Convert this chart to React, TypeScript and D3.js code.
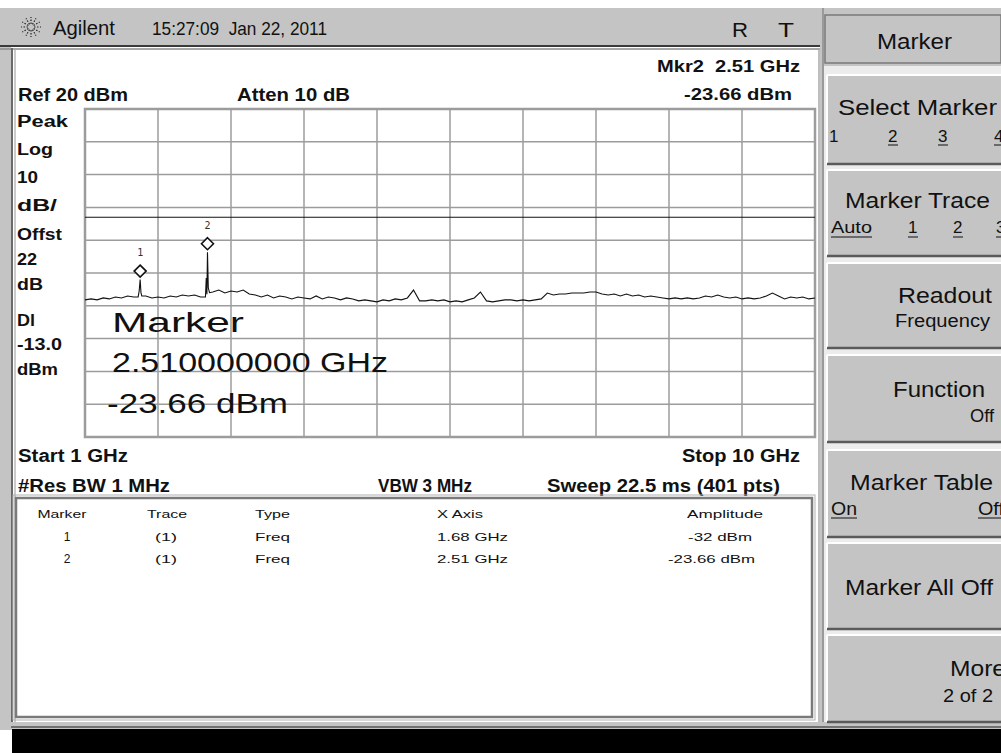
import React from "react";
import * as d3 from "d3";

const startGHz = 1;
const stopGHz = 10;
const refLevel = 20; // dBm, top of graticule
const dbPerDiv = 10;
const divisions = 10;
const displayLine = -13.0;

// base sweep (121 readings, evenly spaced from 1 to 10 GHz)
const traceDbm = [
  -38.2, -37.9, -38.2, -37.6, -37.9, -37.3, -37.6, -37.0, -37.3, -37.3,
  -37.0, -37.6, -37.3, -37.6, -37.0, -37.3, -36.7, -37.0, -36.7, -37.3,
  -37.3, -35.8, -35.2, -36.1, -35.5, -35.8, -35.2, -36.4, -36.7, -37.3,
  -36.7, -37.6, -37.0, -37.3, -37.9, -37.3, -37.6, -37.9, -37.0, -37.9,
  -37.3, -37.6, -38.2, -37.6, -37.9, -38.5, -38.2, -38.5, -38.8, -38.2,
  -38.5, -37.9, -38.2, -37.6, -35.2, -38.5, -38.5, -38.2, -38.5, -38.2,
  -38.8, -38.5, -38.8, -38.2, -37.6, -35.8, -38.5, -38.8, -38.5, -38.2,
  -38.2, -38.5, -38.2, -38.5, -38.2, -37.9, -36.1, -36.7, -36.4, -36.4,
  -36.1, -36.1, -36.1, -35.8, -35.8, -36.4, -36.7, -36.4, -37.0, -36.4,
  -37.0, -36.7, -37.3, -37.0, -37.3, -37.6, -37.9, -37.6, -37.9, -37.6,
  -37.9, -37.6, -37.0, -37.3, -36.7, -37.3, -37.6, -37.3, -37.9, -37.6,
  -37.9, -37.6, -37.0, -36.1, -37.0, -37.9, -37.3, -37.6, -37.3, -37.9, -37.6,
];

// finely read points around the two signal spikes
const spikeFreqGHz = [1.655, 1.668, 1.68, 1.69, 1.70, 2.485, 2.495, 2.503, 2.51, 2.52, 2.535];
const spikeDbm = [-37.3, -35.5, -32.0, -36.0, -37.0, -37.3, -31.5, -36.5, -23.66, -34.5, -36.0];

const markerLabels = ["1", "2"];
const markerFreqGHz = [1.68, 2.51];
const markerDbm = [-32, -23.66];

const leftLabels = ["Peak", "Log", "10", "dB/", "Offst", "22", "dB", "Dl", "-13.0", "dBm"];
const leftLabelY = [127, 155, 183, 211, 240, 265, 290, 326, 350, 375];
const leftLabelW = [51, 36, 21, 40, 45, 20, 26, 18, 45, 41];

const tableHeaders = ["Marker", "Trace", "Type", "X Axis", "Amplitude"];
const tableTrace = ["(1)", "(1)"];
const tableType = ["Freq", "Freq"];
const tableXAxis = ["1.68 GHz", "2.51 GHz"];
const tableAmp = ["-32 dBm", "-23.66 dBm"];

const W = 1001;
const H = 753;
const GX0 = 85, GX1 = 815, GY0 = 109, GY1 = 437;

const SANS = "'Liberation Sans', Arial, Helvetica, sans-serif";

function T(props: any) {
  const { children, ...rest } = props;
  return (
    <text fontFamily={SANS} fill="#111" lengthAdjust="spacingAndGlyphs" {...rest}>
      {children}
    </text>
  );
}

function Button({ y, h }: { y: number; h: number }) {
  return (
    <g>
      <rect x={827} y={y} width={W - 827} height={h} fill="#c4c4c4" />
      <line x1={827} y1={y} x2={W} y2={y} stroke="#ffffff" strokeWidth={2} />
      <line x1={827} y1={y} x2={827} y2={y + h} stroke="#ffffff" strokeWidth={2} />
      <line x1={827} y1={y + h} x2={W} y2={y + h} stroke="#5a5a5a" strokeWidth={2.5} />
    </g>
  );
}

export default function App() {
  const x = d3.scaleLinear().domain([startGHz, stopGHz]).range([GX0, GX1]);
  const y = d3
    .scaleLinear()
    .domain([refLevel - dbPerDiv * divisions, refLevel])
    .range([GY1, GY0]);

  const n = traceDbm.length;
  const step = (stopGHz - startGHz) / (n - 1);
  const base = traceDbm.map((v, i) => ({ f: startGHz + i * step, v }));
  const ranges = [
    [d3.min(spikeFreqGHz.slice(0, 5))!, d3.max(spikeFreqGHz.slice(0, 5))!],
    [d3.min(spikeFreqGHz.slice(5))!, d3.max(spikeFreqGHz.slice(5))!],
  ];
  const kept = base.filter((p) => !ranges.some(([a, b]) => p.f >= a && p.f <= b));
  const spikes = spikeFreqGHz.map((f, i) => ({ f, v: spikeDbm[i] }));
  const pts = [...kept, ...spikes].sort((a, b) => a.f - b.f);

  const line = d3
    .line<{ f: number; v: number }>()
    .x((d) => x(d.f))
    .y((d) => y(d.v));

  const vTicks = d3.range(0, divisions + 1).map((i) => startGHz + (i * (stopGHz - startGHz)) / divisions);
  const hTicks = d3.range(0, divisions + 1).map((i) => refLevel - i * dbPerDiv);

  const buttonsTop = [75, 170, 263, 355, 450, 543, 635];
  const buttonsH = [89, 86, 85, 87, 87, 86, 87];

  return (
    <svg
      width={W}
      height={H}
      style={{ position: "absolute", left: 0, top: 0, display: "block" }}
      xmlns="http://www.w3.org/2000/svg"
    >
      <rect x={0} y={0} width={W} height={H} fill="#ffffff" />
      {/* title bar */}
      <rect x={0} y={8} width={822} height={37} fill="#c4c4c4" />
      <rect x={0} y={8} width={11} height={722} fill="#c4c4c4" />
      <line x1={0} y1={46} x2={820} y2={46} stroke="#3a3a3a" strokeWidth={2} />
      <line x1={0} y1={49} x2={820} y2={49} stroke="#8a8a8a" strokeWidth={1.5} />
      <line x1={12} y1={48} x2={12} y2={729} stroke="#6a6a6a" strokeWidth={2} />
      <line x1={15} y1={50} x2={15} y2={729} stroke="#a8a8a8" strokeWidth={1.2} />
      <line x1={819} y1={48} x2={819} y2={729} stroke="#a8a8a8" strokeWidth={1.5} />

      {/* logo */}
      <g transform="translate(31,27)" stroke="#222" strokeWidth={1.2} strokeDasharray="1.5 1.5">
        {d3.range(12).map((k) => {
          const a = (k * Math.PI) / 6;
          return (
            <line key={k} x1={Math.cos(a) * 3} y1={Math.sin(a) * 3} x2={Math.cos(a) * 10} y2={Math.sin(a) * 10} />
          );
        })}
      </g>
      <T x={53} y={35} fontSize={20} textLength={62}>Agilent</T>
      <T x={152} y={35} fontSize={19} textLength={175} xmlSpace="preserve">15:27:09  Jan 22, 2011</T>
      <T x={732} y={37} fontSize={21} textLength={16}>R</T>
      <T x={778} y={37} fontSize={21} textLength={16}>T</T>

      {/* header labels */}
      <T x={800} y={72} fontSize={17} fontWeight="bold" textAnchor="end" textLength={143} xmlSpace="preserve">Mkr2  2.51 GHz</T>
      <T x={18} y={101} fontSize={18} fontWeight="bold" textLength={110}>Ref 20 dBm</T>
      <T x={237} y={101} fontSize={18} fontWeight="bold" textLength={113}>Atten 10 dB</T>
      <T x={792} y={100} fontSize={17} fontWeight="bold" textAnchor="end" textLength={108}>-23.66 dBm</T>

      {leftLabels.map((s, i) => (
        <T key={s + i} x={17} y={leftLabelY[i]} fontSize={16} fontWeight="bold" textLength={leftLabelW[i]}>
          {s}
        </T>
      ))}

      {/* graticule */}
      <g stroke="#9c9c9c" strokeWidth={1.5}>
        {vTicks.map((f, i) => (
          <line key={"v" + i} x1={x(f)} y1={GY0} x2={x(f)} y2={GY1} />
        ))}
        {hTicks.map((d, i) => (
          <line key={"h" + i} x1={GX0} y1={y(d)} x2={GX1} y2={y(d)} />
        ))}
      </g>
      <rect x={GX0} y={GY0} width={GX1 - GX0} height={GY1 - GY0} fill="none" stroke="#9c9c9c" strokeWidth={2.5} />
      {/* display line */}
      <line x1={GX0} y1={y(displayLine)} x2={GX1} y2={y(displayLine)} stroke="#111" strokeWidth={1.2} />

      {/* trace */}
      <path d={line(pts) || ""} fill="none" stroke="#111" strokeWidth={1.1} />

      {/* markers */}
      {markerFreqGHz.map((f, i) => {
        const cx = x(f);
        const cy = y(markerDbm[i]) - 8.5;
        return (
          <g key={"m" + i}>
            <path
              d={`M${cx},${cy - 6} L${cx + 6},${cy} L${cx},${cy + 6} L${cx - 6},${cy} Z`}
              fill="#fff"
              stroke="#111"
              strokeWidth={1.6}
            />
            <text
              x={cx}
              y={cy - 15}
              fontSize={10}
              fontFamily="'DejaVu Sans Mono', monospace"
              textAnchor="middle"
              fill="#333"
            >
              {markerLabels[i]}
            </text>
          </g>
        );
      })}

      {/* big marker readout */}
      <T x={112} y={332} fontSize={28} textLength={132}>Marker</T>
      <T x={112} y={372} fontSize={28} textLength={276}>2.510000000 GHz</T>
      <T x={107} y={413} fontSize={28} textLength={181}>-23.66 dBm</T>

      {/* footer labels */}
      <T x={18} y={462} fontSize={18} fontWeight="bold" textLength={110}>Start 1 GHz</T>
      <T x={800} y={462} fontSize={18} fontWeight="bold" textAnchor="end" textLength={118}>Stop 10 GHz</T>
      <T x={18} y={492} fontSize={18} fontWeight="bold" textLength={152}>#Res BW 1 MHz</T>
      <T x={378} y={492} fontSize={18} fontWeight="bold" textLength={94}>VBW 3 MHz</T>
      <T x={547} y={492} fontSize={18} fontWeight="bold" textLength={233}>Sweep 22.5 ms (401 pts)</T>

      {/* marker table */}
      <rect x={16} y={498} width={796} height={219} fill="#fff" stroke="#7a7a7a" strokeWidth={2.5} />
      <rect x={13} y={495} width={802} height={225} fill="none" stroke="#b0b0b0" strokeWidth={1} />
      <g fontSize={11}>
        <T x={62} y={518} textAnchor="middle" textLength={49} fontSize={11}>{tableHeaders[0]}</T>
        <T x={167} y={518} textAnchor="middle" textLength={40} fontSize={11}>{tableHeaders[1]}</T>
        <T x={255} y={518} textLength={35} fontSize={11}>{tableHeaders[2]}</T>
        <T x={437} y={518} textLength={46} fontSize={11}>{tableHeaders[3]}</T>
        <T x={725} y={518} textAnchor="middle" textLength={76} fontSize={11}>{tableHeaders[4]}</T>
        {markerLabels.map((m, i) => {
          const yy = 541 + i * 22;
          return (
            <g key={"r" + i}>
              <T x={67} y={yy} textAnchor="middle" fontSize={12}>{m}</T>
              <T x={166} y={yy} textAnchor="middle" textLength={22} fontSize={11}>{tableTrace[i]}</T>
              <T x={255} y={yy} textLength={35} fontSize={11}>{tableType[i]}</T>
              <T x={437} y={yy} textLength={71} fontSize={11}>{tableXAxis[i]}</T>
              <T x={i === 0 ? 688 : 668} y={yy} textLength={i === 0 ? 64 : 87} fontSize={11}>{tableAmp[i]}</T>
            </g>
          );
        })}
      </g>

      {/* bottom bar */}
      <rect x={11} y={722} width={W - 11} height={8} fill="#c4c4c4" />
      <line x1={11} y1={727} x2={W} y2={727} stroke="#555" strokeWidth={1.5} />
      <rect x={12} y={729} width={W - 12} height={H - 729} fill="#000" />

      {/* right softkey panel */}
      <rect x={820} y={8} width={W - 820} height={714} fill="#c4c4c4" />
      <rect x={823} y={66} width={W - 823} height={656} fill="#ececec" />
      <line x1={823} y1={8} x2={823} y2={722} stroke="#9a9a9a" strokeWidth={2} />
      <rect x={825} y={15} width={W - 825} height={48} fill="#c4c4c4" stroke="#7a7a7a" strokeWidth={1.5} />
      <T x={877} y={49} fontSize={22} textLength={75}>Marker</T>

      {buttonsTop.map((t, i) => (
        <Button key={"b" + i} y={t} h={buttonsH[i]} />
      ))}

      <T x={838} y={115} fontSize={22} textLength={159}>Select Marker</T>
      {["1", "2", "3", "4"].map((s, i) => (
        <T key={"sm" + s} x={[829, 888, 938, 994][i]} y={142} fontSize={17}>{s}</T>
      ))}
      {[888, 938, 994].map((xx) => (
        <line key={"u" + xx} x1={xx} y1={145} x2={xx + 10} y2={145} stroke="#111" strokeWidth={1} />
      ))}

      <T x={845} y={208} fontSize={22} textLength={145}>Marker Trace</T>
      <T x={831} y={233} fontSize={17} textLength={41}>Auto</T>
      <line x1={831} y1={237} x2={872} y2={237} stroke="#111" strokeWidth={1} />
      {["1", "2", "3"].map((s, i) => (
        <T key={"mt" + s} x={[908, 953, 996][i]} y={233} fontSize={17}>{s}</T>
      ))}
      {[908, 953, 996].map((xx) => (
        <line key={"u2" + xx} x1={xx} y1={237} x2={xx + 10} y2={237} stroke="#111" strokeWidth={1} />
      ))}

      <T x={898} y={303} fontSize={22} textLength={94}>Readout</T>
      <T x={895} y={327} fontSize={18} textLength={95}>Frequency</T>

      <T x={893} y={397} fontSize={22} textLength={92}>Function</T>
      <T x={970} y={422} fontSize={18} textLength={24}>Off</T>

      <T x={850} y={490} fontSize={22} textLength={143}>Marker Table</T>
      <T x={831} y={515} fontSize={18} textLength={26}>On</T>
      <line x1={831} y1={518} x2={857} y2={518} stroke="#111" strokeWidth={1} />
      <T x={978} y={515} fontSize={18} textLength={26}>Off</T>
      <line x1={978} y1={518} x2={1001} y2={518} stroke="#111" strokeWidth={1} />

      <T x={845} y={595} fontSize={22} textLength={148}>Marker All Off</T>

      <T x={950} y={676} fontSize={22} textLength={56}>More</T>
      <T x={943} y={702} fontSize={18} textLength={50}>2 of 2</T>
    </svg>
  );
}
